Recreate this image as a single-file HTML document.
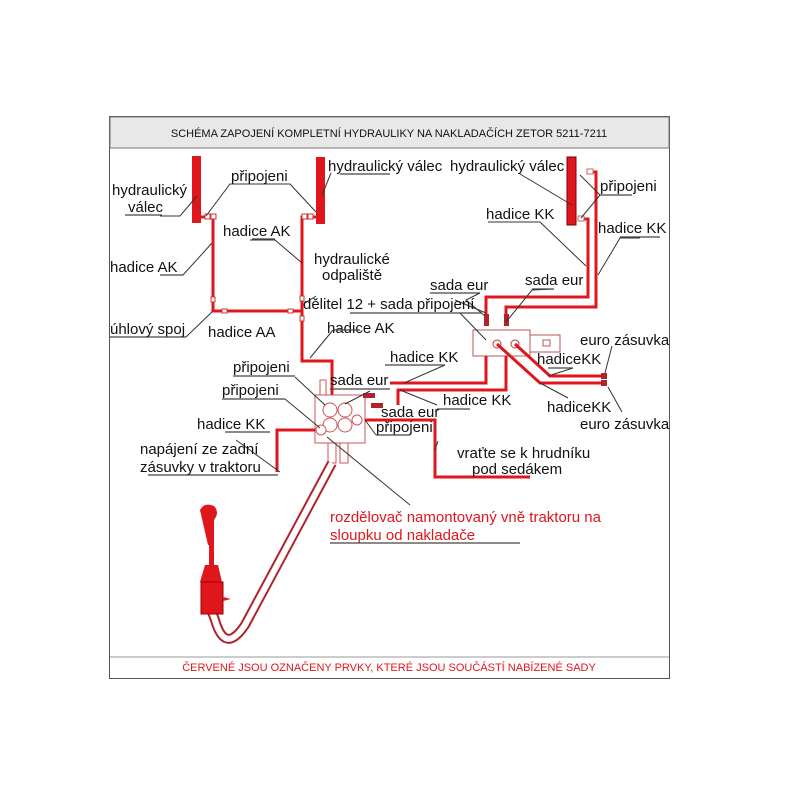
<!DOCTYPE html>
<html><head><meta charset="utf-8"><style>
body{margin:0;background:#fff}
svg{display:block}
text{font-family:"Liberation Sans",sans-serif;font-size:15px;fill:#111}
.l{stroke:#333;stroke-width:1;fill:none}
.u{stroke:#444;stroke-width:1.2}
.r{stroke:#e0161d;stroke-width:3;fill:none}
</style></head><body>
<svg width="800" height="800" viewBox="0 0 800 800">
<rect x="109.5" y="116.5" width="560" height="562" fill="#fff" stroke="#555"/>
<rect x="110" y="117" width="559" height="31" fill="#e8e8e8" stroke="#777"/>
<text x="389" y="137" text-anchor="middle" style="font-size:11px">SCHÉMA ZAPOJENÍ KOMPLETNÍ HYDRAULIKY NA NAKLADAČÍCH ZETOR 5211-7211</text>
<line x1="110" y1="657" x2="669" y2="657" stroke="#999"/>
<text x="389" y="671" text-anchor="middle" style="font-size:11px;fill:#e0161d">ČERVENÉ JSOU OZNAČENY PRVKY, KTERÉ JSOU SOUČÁSTÍ NABÍZENÉ SADY</text>

<rect x="192" y="156" width="9" height="67" fill="#e0161d"/>
<rect x="316" y="157" width="9" height="67" fill="#e0161d"/>
<rect x="567" y="157" width="9" height="68" fill="#e0161d" stroke="#700"/>
<path class="r" d="M201 217 H213 V311 H302"/>
<path class="r" d="M316 217 H302 V361 H332 V413"/>
<g fill="#fff" stroke="#c33"><rect x="205" y="214" width="5" height="5"/><rect x="211" y="214" width="5" height="5"/><rect x="211" y="297" width="4" height="5"/><rect x="222" y="309" width="5" height="4"/><rect x="288" y="309" width="5" height="4"/><rect x="300" y="296" width="4" height="5"/><rect x="300" y="316" width="4" height="5"/><rect x="308" y="214" width="5" height="5"/><rect x="302" y="214" width="5" height="5"/></g>
<path class="r" d="M591 172 H596 V307 H506 V320"/>
<path class="r" d="M582 219 H588 V297 H486 V320"/>
<g fill="#fff" stroke="#c66"><rect x="587" y="169" width="6" height="5"/><rect x="578" y="216" width="6" height="5"/></g>
<rect x="484" y="314" width="5" height="12" fill="#b2222a"/><rect x="504" y="314" width="5" height="12" fill="#b2222a"/>
<rect x="473" y="330" width="57" height="26" fill="#fff" stroke="#b55"/>
<rect x="530" y="335" width="30" height="17" fill="#fff" stroke="#b55"/>
<rect x="543" y="340" width="7" height="6" fill="none" stroke="#b55"/>
<circle cx="497" cy="344" r="4" fill="none" stroke="#c33"/><circle cx="515" cy="344" r="4" fill="none" stroke="#c33"/>
<path class="r" d="M486 356 V383 H390"/>
<path class="r" d="M506 356 V390 H398 V405"/>
<path class="r" d="M515 344 L550 376 H602"/>
<path class="r" d="M497 344 L540 383 H602"/>
<rect x="601" y="373" width="6" height="6" fill="#b2222a"/><rect x="601" y="380" width="6" height="6" fill="#b2222a"/>
<g fill="#fff" stroke="#c55">
<rect x="315" y="395" width="50" height="48"/>
<rect x="320" y="380" width="6" height="15"/>
<circle cx="330" cy="410" r="7"/><circle cx="345" cy="410" r="7"/><circle cx="330" cy="425" r="7"/><circle cx="345" cy="425" r="7"/>
<circle cx="321" cy="430" r="5"/><circle cx="357" cy="420" r="5"/>
<rect x="328" y="443" width="8" height="20"/><rect x="340" y="443" width="8" height="20"/>
</g>
<rect x="363" y="393" width="12" height="5" fill="#b2222a"/><rect x="371" y="403" width="12" height="5" fill="#b2222a"/>
<path class="r" d="M365 420 H435 V477 H530"/>
<path class="r" d="M315 430 H277 V472"/>
<path d="M332 463 L245 625 Q225 655 215 620 L212 612" fill="none" stroke="#b2222a" stroke-width="10"/>
<path d="M332 463 L245 625 Q225 655 215 620 L212 612" fill="none" stroke="#fff" stroke-width="6"/>
<!-- joystick -->
<path d="M200 510 Q204 502 214 506 Q220 512 214 520 L214 545 L208 545 Z" fill="#e0161d"/>
<rect x="209" y="545" width="5" height="20" fill="#e0161d"/>
<path d="M205 565 H218 L222 582 H200 Z" fill="#e0161d"/>
<rect x="201" y="582" width="22" height="32" fill="#e0161d" stroke="#900"/>
<path d="M223 597 L231 599 L223 601Z" fill="#e0161d"/>
<g class="l">
<path d="M160 216 H180 L197 196"/><path d="M206 216 L230 184 H290 L316 212"/>
<path d="M331 173 L322 195"/><path d="M165 275 H183 L212 243"/>
<path d="M250 240 H275 L302 263"/><path d="M316 296 L305 303"/>
<path d="M150 337 H186 L213 311"/>
<path d="M333 330 L310 358"/>
<path d="M520 174 L572 205"/>
<path d="M600 195 L580 175 M600 195 L581 218"/>
<path d="M488 222 H540 L586 266"/><path d="M640 238 H620 L598 275"/>
<path d="M480 293 L466 300 L485 316"/><path d="M554 289 L532 290 L506 322"/>
<path d="M486 313 L455 300 M460 313 L486 340"/>
<path d="M612 346 L605 373"/><path d="M608 387 L622 412"/>
<path d="M573 368 L548 376"/><path d="M568 398 L540 383"/>
<path d="M445 365 L404 383"/><path d="M437 405 L400 390"/>
<path d="M370 391 L345 404"/><path d="M295 377 L325 405"/>
<path d="M285 399 L320 428"/><path d="M236 440 L280 472"/>
<path d="M438 441 L435 450"/><path d="M327 437 L410 505"/>
<path d="M376 435 L365 420"/>
</g>
<g>
<text x="112" y="195">hydraulický</text><text x="128" y="212">válec</text><line class="u" x1="125" y1="215" x2="162" y2="215"/>
<text x="231" y="181">připojeni</text>
<text x="328" y="171">hydraulický válec</text><line class="u" x1="340" y1="174" x2="390" y2="174"/>
<text x="223" y="236">hadice AK</text><line class="u" x1="252" y1="239" x2="275" y2="239"/>
<text x="110" y="272">hadice AK</text><line class="u" x1="160" y1="275" x2="183" y2="275"/>
<text x="314" y="264">hydraulické</text><text x="322" y="280">odpaliště</text>
<text x="303" y="309">dělitel 12 + sada připojení</text><line class="u" x1="350" y1="313" x2="482" y2="313"/>
<text x="110" y="334">úhlový spoj</text><line class="u" x1="110" y1="337" x2="186" y2="337"/>
<text x="208" y="337">hadice AA</text>
<text x="327" y="333">hadice AK</text><line class="u" x1="333" y1="330" x2="360" y2="330"/>
<text x="450" y="171">hydraulický válec</text>
<text x="600" y="191">připojeni</text><line class="u" x1="600" y1="195" x2="632" y2="195"/>
<text x="486" y="219">hadice KK</text>
<text x="598" y="233">hadice KK</text><line class="u" x1="620" y1="237" x2="660" y2="237"/>
<text x="430" y="290">sada eur</text><line class="u" x1="430" y1="293" x2="480" y2="293"/>
<text x="525" y="285">sada eur</text><line class="u" x1="532" y1="289" x2="554" y2="289"/>
<text x="580" y="345">euro zásuvka</text>
<text x="537" y="364">hadiceKK</text><line class="u" x1="548" y1="368" x2="573" y2="368"/>
<text x="547" y="412">hadiceKK</text>
<text x="580" y="429">euro zásuvka</text>
<text x="390" y="362">hadice KK</text><line class="u" x1="385" y1="365" x2="445" y2="365"/>
<text x="233" y="372">připojeni</text><line class="u" x1="233" y1="376" x2="295" y2="376"/>
<text x="330" y="385">sada eur</text><line class="u" x1="330" y1="389" x2="390" y2="389"/>
<text x="222" y="395">připojeni</text><line class="u" x1="222" y1="399" x2="285" y2="399"/>
<text x="443" y="405">hadice KK</text><line class="u" x1="437" y1="409" x2="470" y2="409"/>
<text x="381" y="417">sada eur</text>
<text x="376" y="432">připojeni</text><line class="u" x1="376" y1="435" x2="410" y2="435"/>
<text x="197" y="429">hadice KK</text><line class="u" x1="225" y1="432" x2="270" y2="432"/>
<text x="140" y="454">napájení ze zadní</text>
<text x="140" y="472">zásuvky v traktoru</text><line class="u" x1="148" y1="475" x2="278" y2="475"/>
<text x="457" y="458">vraťte se k hrudníku</text>
<text x="472" y="474">pod  sedákem</text>
<text x="330" y="522" style="fill:#e0161d">rozdělovač namontovaný vně traktoru na</text>
<text x="330" y="540" style="fill:#e0161d">sloupku od nakladače</text><line class="u" x1="330" y1="543" x2="520" y2="543"/>
</g>
</svg>
</body></html>
